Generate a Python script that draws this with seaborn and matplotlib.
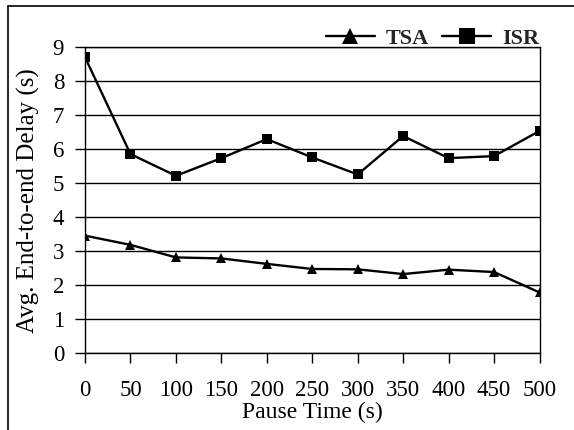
import pandas as pd
import seaborn as sns
import matplotlib.pyplot as plt
from matplotlib.lines import Line2D

pause_time = [0, 50, 100, 150, 200, 250, 300, 350, 400, 450, 500]
tsa_delay = [3.46, 3.19, 2.82, 2.79, 2.63, 2.48, 2.47, 2.33, 2.46, 2.39, 1.79]
isr_delay = [8.71, 5.86, 5.22, 5.74, 6.30, 5.76, 5.26, 6.39, 5.74, 5.80, 6.54]

df = pd.DataFrame({
    "Pause Time (s)": pause_time * 2,
    "delay": tsa_delay + isr_delay,
    "proto": ["TSA"] * len(pause_time) + ["ISR"] * len(pause_time),
})

sns.set_theme(style="white")
plt.rcParams["font.family"] = ["Liberation Serif", "DejaVu Serif"]

fig = plt.figure(figsize=(5.74, 4.30), dpi=100)
ax = fig.add_axes([85 / 574, 1 - 353.3 / 430, (539.5 - 85) / 574, (353.3 - 47.3) / 430])

sns.lineplot(data=df, x="Pause Time (s)", y="delay", hue="proto", style="proto",
             markers={"TSA": "^", "ISR": "s"}, dashes=False,
             palette={"TSA": "black", "ISR": "black"},
             markersize=7.5, linewidth=1.7, markeredgewidth=0, ax=ax)

ax.set_xlim(0, 500)
ax.set_ylim(0, 9)
ax.set_xticks(pause_time)
ax.set_yticks(range(10))
ax.yaxis.grid(True, color="black", linewidth=1)
ax.set_axisbelow(True)
for s in ax.spines.values():
    s.set_color("black")
    s.set_linewidth(1)
ax.tick_params(axis="both", direction="out", length=7, width=1, color="black",
               labelsize=16.5, labelcolor="black", pad=12, bottom=True, left=True)
ax.tick_params(axis="y", pad=8)
ax.set_xlabel("Pause Time (s)", fontsize=17, color="black", labelpad=1)
ax.set_ylabel("Avg. End-to-end Delay (s)", fontsize=18, color="black", labelpad=9)

handles, labels = ax.get_legend_handles_labels()
ax.legend(handles, labels, ncol=2, frameon=False, loc="lower right",
          bbox_to_anchor=(1.0, 0.995), prop={"weight": "bold", "size": 16},
          handlelength=2.2, markerscale=1.55, columnspacing=0.6, handletextpad=0.5,
          borderaxespad=0, borderpad=0)

fig.add_artist(Line2D([8 / 574, 8 / 574], [0, 1 - 6 / 430], color="black", linewidth=1.2))
fig.add_artist(Line2D([8 / 574, 1], [1 - 6 / 430, 1 - 6 / 430], color="black", linewidth=1.2))

fig.savefig("out.png", dpi=100)
